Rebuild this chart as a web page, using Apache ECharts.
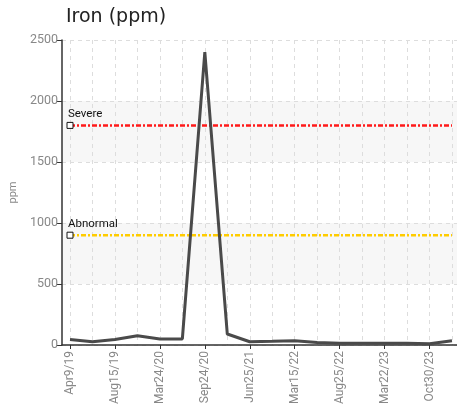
<!DOCTYPE html>
<html>
<head>
<meta charset="utf-8">
<script src="https://cdn.jsdelivr.net/npm/echarts@6/dist/echarts.min.js"></script>
<style>html,body{margin:0;padding:0;background:#fff}#c{width:457px;height:411px}</style>
</head>
<body>
<div id="c"></div>
<script>
const dates = ['Apr9/19','','Aug15/19','','Mar24/20','','Sep24/20','','Jun25/21','','Mar15/22','','Aug25/22','','Mar22/23','','Oct30/23',''];
const iron = [45, 27, 45, 75, 50, 50, 2400, 90, 27, 30, 35, 20, 15, 15, 15, 15, 10, 35];
const severeLimit = 1800;
const abnormalLimit = 900;
const yTicks = [0, 500, 1000, 1500, 2000, 2500];

const labelFont = 'Roboto';
function limitSeries(name, value, color) {
  const data = dates.map((d, i) => i === 0 ? {
    value: value,
    symbol: 'rect', symbolSize: 6,
    itemStyle: {color: '#fff', borderColor: '#111', borderWidth: 1},
    label: {show: true, formatter: name, position: 'top', align: 'left', offset: [-2, 0], distance: 2,
            color: '#111', fontSize: 11.5, fontFamily: labelFont}
  } : value);
  return {
    type: 'line', xAxisIndex: 0, yAxisIndex: 0, data: data,
    symbol: 'none', showSymbol: true, silent: true, animation: false,
    lineStyle: {color: color, width: 2.5, type: [5, 2, 2, 2]},
    z: 3
  };
}

const chart = echarts.init(document.getElementById('c'), null, {renderer: 'canvas'});
chart.setOption({
  animation: false,
  title: {text: 'Iron (ppm)', left: 61, top: 3,
          textStyle: {fontFamily: '"DejaVu Sans", Verdana, sans-serif', fontSize: 19, fontWeight: 'normal', color: '#222'}},
  grid: [
    {left: 70, right: 5, top: 40, bottom: 66},
    {left: 57, right: 0, top: 40, bottom: 66}
  ],
  xAxis: [
    {type: 'category', gridIndex: 0, data: dates, boundaryGap: false,
     axisLine: {show: false},
     axisTick: {show: true, interval: 1, length: 4, lineStyle: {color: '#333'}},
     axisLabel: {interval: 1, rotate: 90, margin: 6, color: '#888', fontSize: 12, fontFamily: labelFont},
     splitLine: {show: true, interval: 0, lineStyle: {color: '#ddd', type: [4, 4]}}},
    {type: 'value', gridIndex: 1, min: 0, max: 1,
     axisLine: {show: true, onZero: false, lineStyle: {color: '#333', width: 1.5}},
     axisTick: {show: false}, axisLabel: {show: false}, splitLine: {show: false}}
  ],
  yAxis: [
    {type: 'value', gridIndex: 0, min: 0, max: 2500, interval: 500, show: false},
    {type: 'value', gridIndex: 1, min: yTicks[0], max: yTicks[yTicks.length - 1], interval: 500,
     name: 'ppm', nameLocation: 'middle', nameGap: 38, nameRotate: 90,
     nameTextStyle: {color: '#888', fontSize: 11, fontFamily: labelFont},
     axisLine: {show: true, lineStyle: {color: '#333', width: 1.5}},
     axisTick: {show: true, length: 5, lineStyle: {color: '#333'}},
     axisLabel: {color: '#888', fontSize: 12.5, fontFamily: labelFont, margin: 4, formatter: v => String(v)},
     splitLine: {show: true, lineStyle: {color: '#ddd', type: [4, 4]}},
     splitArea: {show: true, areaStyle: {color: ['rgba(255,255,255,0)', '#f7f7f7']}}}
  ],
  series: [
    limitSeries('Severe', severeLimit, '#ff1a1a'),
    limitSeries('Abnormal', abnormalLimit, '#ffcc00'),
    {type: 'line', name: 'Iron', xAxisIndex: 0, yAxisIndex: 0, data: iron,
     symbol: 'none', lineStyle: {color: '#4a4a4a', width: 3}, z: 5}
  ]
});
</script>
</body>
</html>
